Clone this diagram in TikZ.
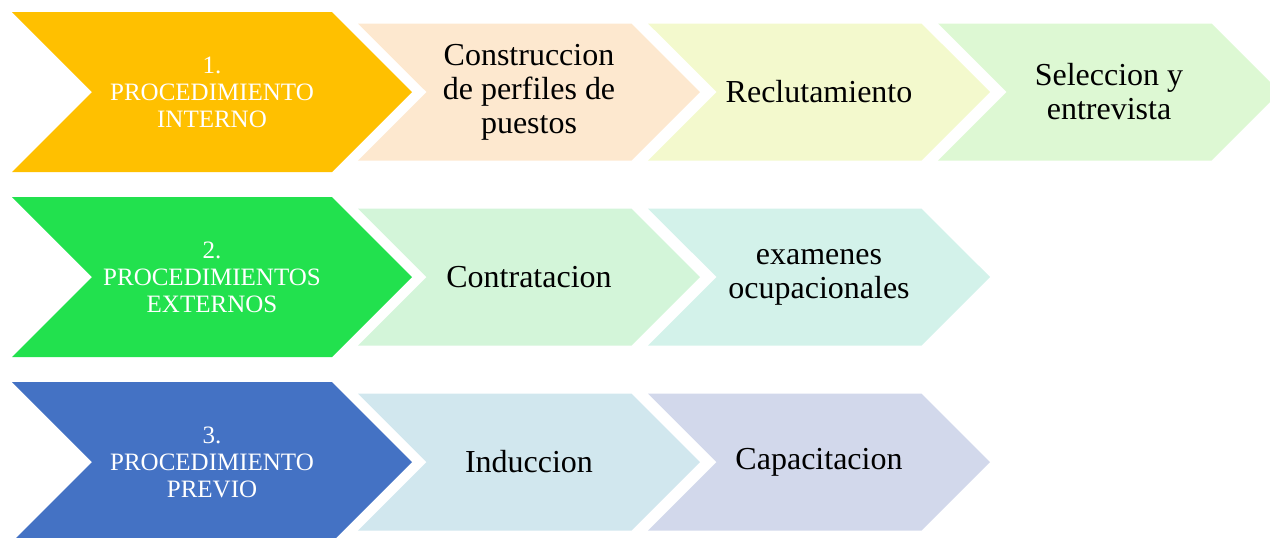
\documentclass[tikz,border=0pt]{standalone}
\usepackage{fontspec}
\setmainfont{Liberation Serif}
\usetikzlibrary{shapes.symbols}
\definecolor{amarillo}{HTML}{FFC000}
\definecolor{durazno}{HTML}{FDE8CF}
\definecolor{limon}{HTML}{F3F9CD}
\definecolor{menta}{HTML}{DDF8D3}
\definecolor{verde}{HTML}{22E14E}
\definecolor{verdeclaro}{HTML}{D3F5D9}
\definecolor{aguamarina}{HTML}{D3F2EA}
\definecolor{azul}{HTML}{4472C4}
\definecolor{celeste}{HTML}{D1E7EE}
\definecolor{lavanda}{HTML}{D2D8EB}
\begin{document}
\begin{tikzpicture}[x=0.5pt, y=-0.5pt]
        \tikzstyle{fase} = [signal, signal from=west, signal to=east, signal pointer angle=90, inner sep=0pt, align=center, text=white, minimum width=200pt, minimum height=80pt, font=\fontsize{12.5}{13.5}\selectfont]
        \tikzstyle{paso} = [signal, signal from=west, signal to=east, signal pointer angle=90, inner sep=0pt, align=center, minimum width=171pt, minimum height=68.5pt, font=\fontsize{16}{17}\selectfont]
        \useasboundingbox (0,0) rectangle (1270,537);
        % fila 1
        \node [fase, fill=amarillo] (interno) at (212,92) {1.\\PROCEDIMIENTO\\INTERNO};
        \node [paso, fill=durazno] (perfiles) at (529,92) {Construccion\\de perfiles de\\puestos};
        \node [paso, fill=limon] (reclut) at (819,92) {Reclutamiento};
        \node [paso, fill=menta] (seleccion) at (1109,92) {Seleccion y\\entrevista};
        % fila 2
        \node [fase, fill=verde] (externos) at (212,277) {2.\\PROCEDIMIENTOS\\EXTERNOS};
        \node [paso, fill=verdeclaro] (contrat) at (529,277) {Contratacion};
        \node [paso, fill=aguamarina] (examenes) at (819,277) {examenes\\ocupacionales};
        % fila 3
        \node [fase, fill=azul] (previo) at (212,462) {3.\\PROCEDIMIENTO\\PREVIO};
        \node [paso, fill=celeste] (induccion) at (529,462) {Induccion};
        \node [paso, fill=lavanda] (capacit) at (819,462) {Capacitacion};
\end{tikzpicture}
\end{document}
